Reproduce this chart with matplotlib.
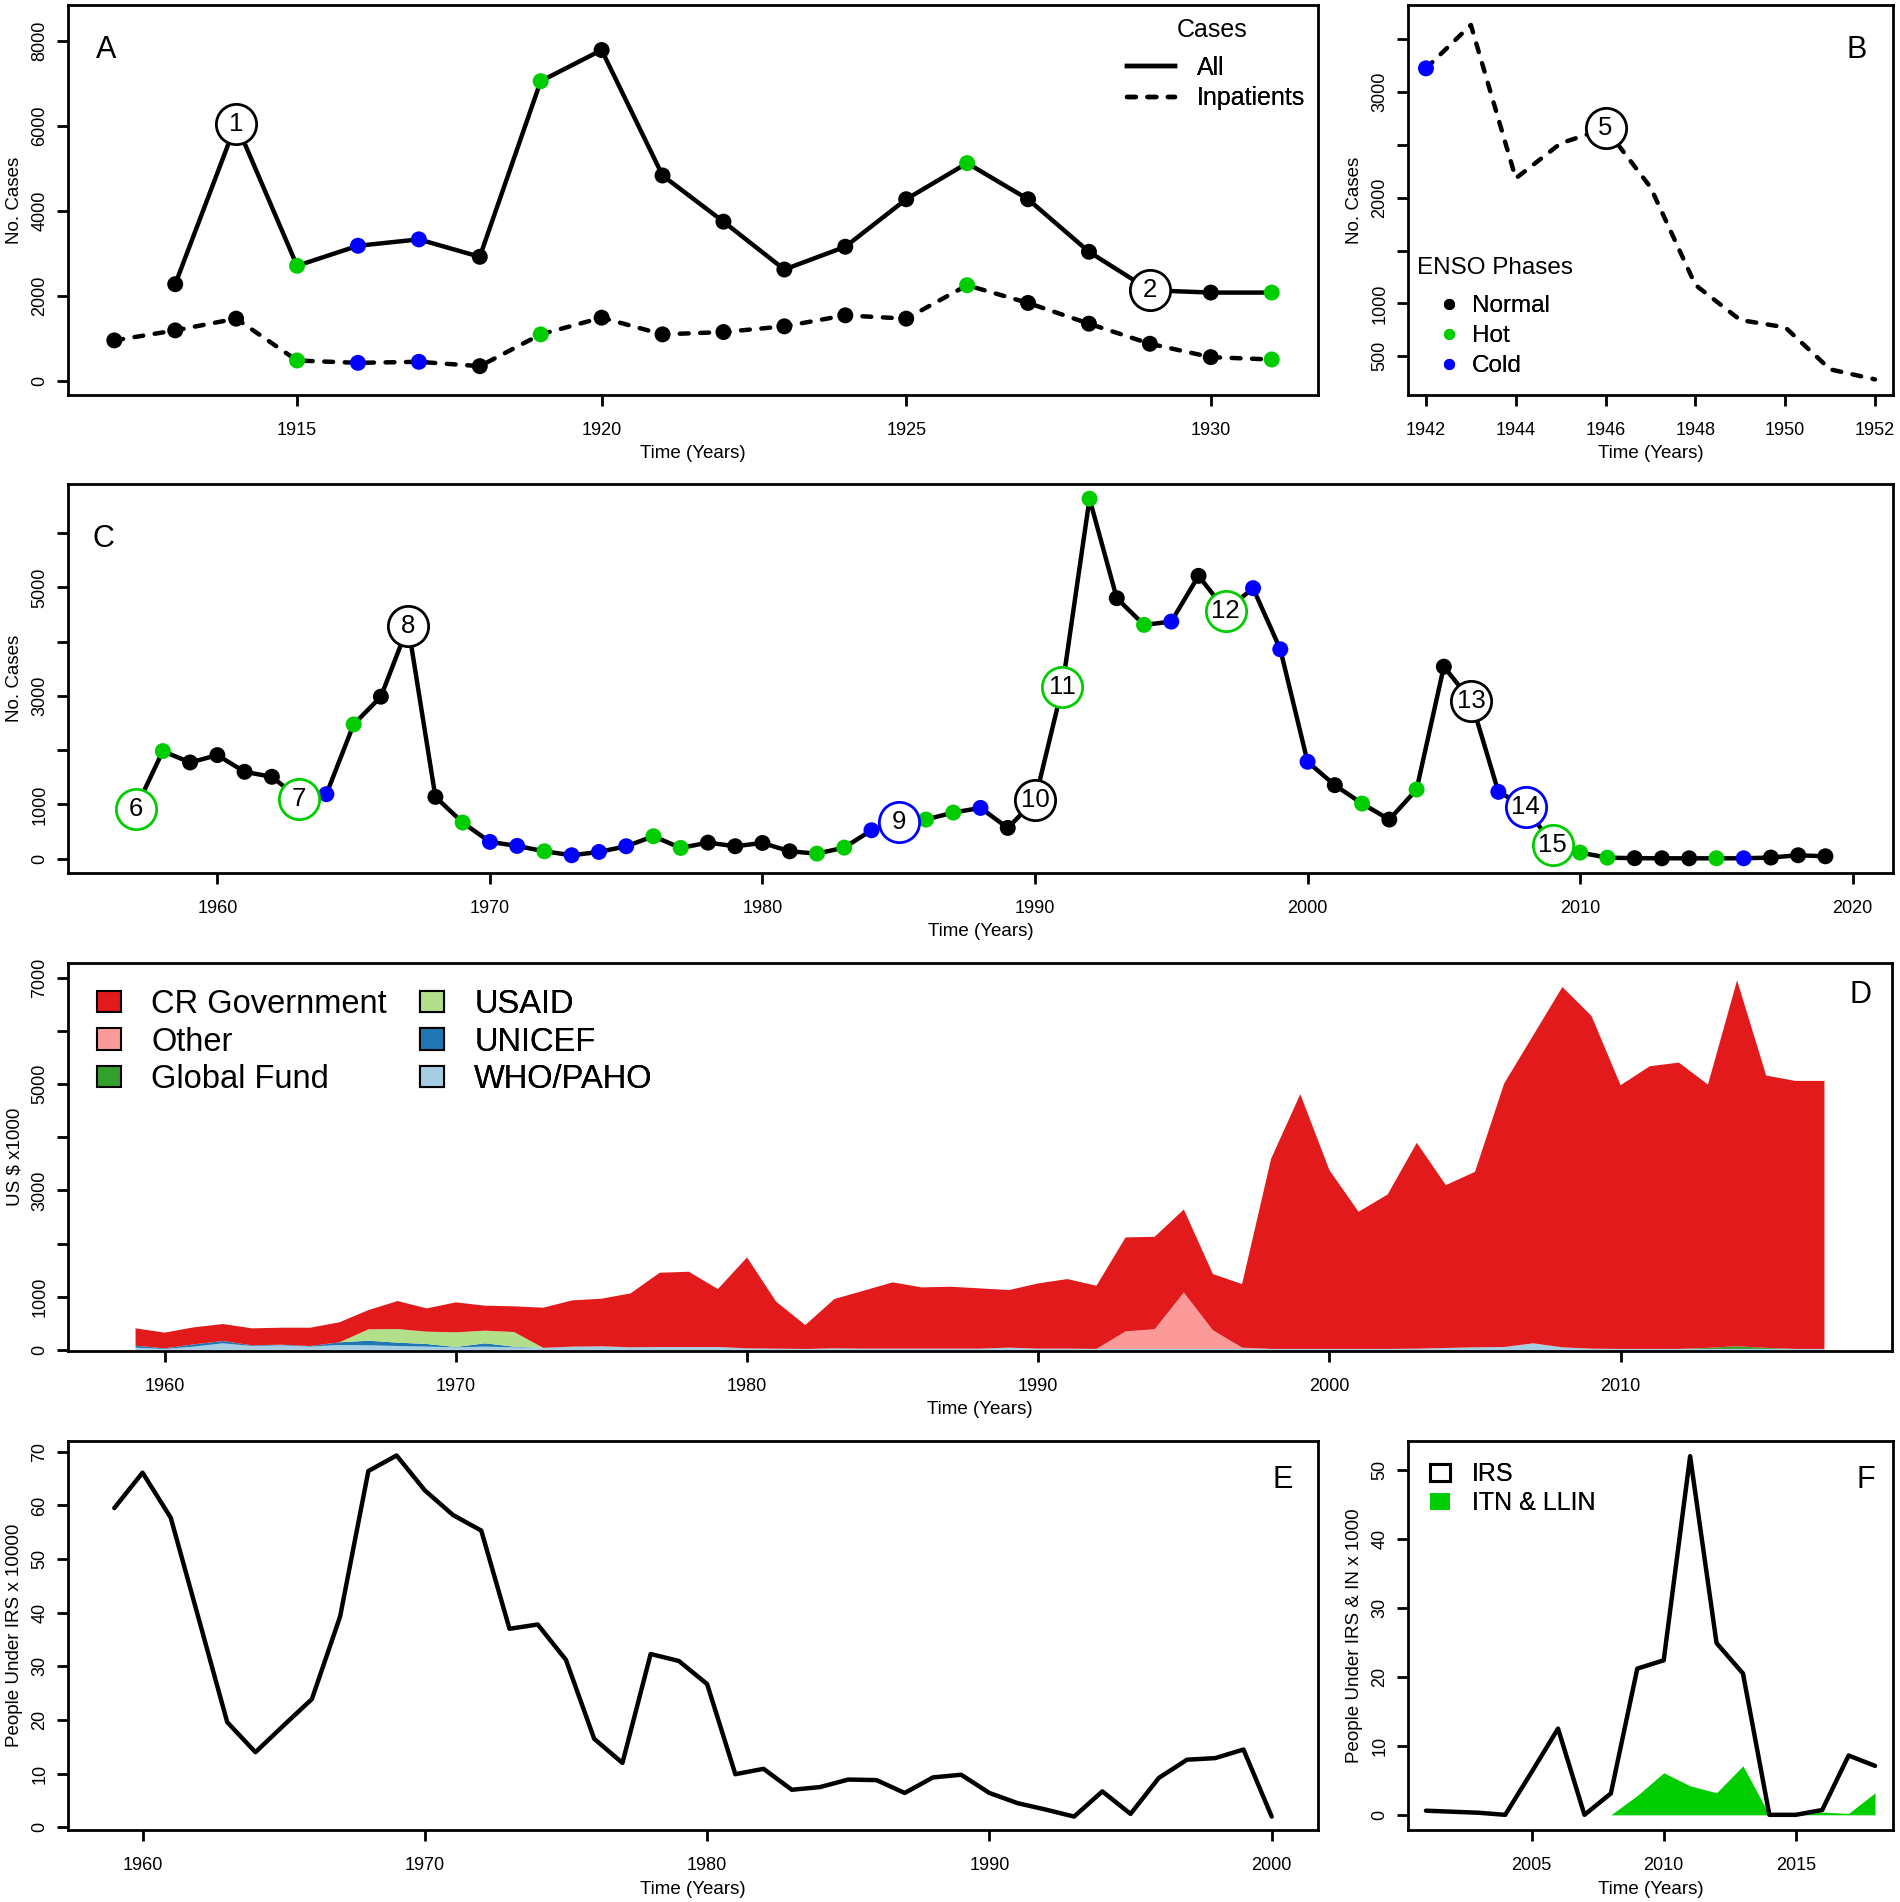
import matplotlib.pyplot as plt
from matplotlib.lines import Line2D
from matplotlib.patches import Patch

plt.rcParams['font.family'] = ['Liberation Sans', 'DejaVu Sans']

# ---------------- data ----------------
# A: cases 1912-1931
yrs_all_a = list(range(1913, 1932))
all_a = [2268, 6050, 2701, 3173, 3323, 2913, 7047, 7780, 4827, 3740,
         2614, 3150, 4268, 5118, 4268, 3031, 2126, 2071, 2071]
yrs_inp_a = list(range(1912, 1932))
inp_a = [945, 1181, 1457, 472, 417, 441, 339, 1087, 1480, 1087,
         1142, 1276, 1535, 1457, 2244, 1827, 1339, 866, 551, 496]
enso_a = list("NNNHCCNHNNNNNNHNNNNH")  # 1912..1931
circles_a = [(1914, "1"), (1929, "2")]

# B: inpatients 1942-1952
yrs_b = list(range(1942, 1953))
inp_b = [3226, 3637, 2184, 2516, 2658, 2100, 1174, 842, 773, 375, 280]
dot_b = (1942, "C")
circles_b = [(1946, "5")]

# C: cases 1957-2019
yrs_c = list(range(1957, 2020))
cases_c = [920, 1982, 1772, 1908, 1600, 1508, 1108, 1188, 2474, 2985,
           4289, 1138, 665, 308, 234, 135, 62, 123, 228, 412,
           197, 295, 228, 289, 135, 92, 203, 523, 677, 720,
           849, 935, 566, 1077, 3157, 6634, 4800, 4308, 4369, 5212,
           4572, 4985, 3858, 1785, 1354, 1015, 720, 1274, 3538, 2911,
           1231, 954, 246, 111, 18, 8, 6, 6, 6, 6,
           20, 62, 43]
enso_c = list("HHNNNNHCHNNNHCCHCCCHHNNNNHHCCHHCNNHHNHCNHCCCNHNHNNCCHHHNNNHCNNN")
circles_c = [(1957, "6"), (1963, "7"), (1967, "8"), (1985, "9"), (1990, "10"),
             (1991, "11"), (1997, "12"), (2006, "13"), (2008, "14"), (2009, "15")]

# D: funding (US $ x1000) 1959-2017, stacked bottom to top
yrs_d = list(range(1959, 2018))
who_paho = [44, 19, 63, 125, 75, 88, 63, 94, 88, 75,
            63, 50, 63, 50, 40, 63, 69, 50, 56, 56,
            56, 31, 25, 19, 31, 25, 25, 25, 25, 25,
            44, 25, 25, 20, 20, 20, 20, 20, 20, 20,
            20, 20, 20, 20, 25, 38, 50, 56, 125, 50,
            25, 20, 20, 20, 20, 20, 20, 20, 20]
unicef = [37, 12, 43, 44, 13, 12, 12, 50, 87, 63, 50, 6, 62, 13] + [0] * 45
usaid = [0] * 8 + [213, 256, 231, 276, 238, 275] + [0] * 45
global_fund = [0] * 54 + [20, 50, 20] + [0, 0]
other = [0] * 34 + [330, 370, 1060, 350, 25] + [0] * 20
cr_gov = [326, 295, 320, 319, 319, 319, 344, 376, 363, 526,
          438, 563, 470, 482, 755, 870, 895, 1014, 1396, 1415,
          1090, 1709, 883, 450, 927, 1089, 1246, 1152, 1164, 1133,
          1083, 1227, 1308, 1188, 1766, 1738, 1562, 1057, 1194, 3579,
          4788, 3360, 2578, 2903, 3869, 3061, 3299, 4952, 5790, 6773,
          6254, 4957, 5313, 5382, 4949, 6878, 5118, 5038, 5038]

# E: people under IRS x 10000, 1959-2000
yrs_e = list(range(1959, 2001))
irs_e = [59.5, 66.1, 57.7, 38.7, 19.6, 14.0, 19.0, 23.9, 39.3, 66.4,
         69.3, 62.8, 58.2, 55.3, 37.0, 37.8, 31.2, 16.5, 12.0, 32.3,
         31.0, 26.7, 9.9, 10.9, 7.0, 7.5, 8.9, 8.8, 6.4, 9.3,
         9.8, 6.4, 4.5, 3.3, 2.0, 6.7, 2.5, 9.2, 12.6, 12.9,
         14.5, 2.0]

# F: people under IRS & nets x 1000
yrs_f = list(range(2001, 2019))
irs_f = [0.6, 0.45, 0.3, 0.0, 6.2, 12.5, 0.0, 3.1, 21.2, 22.4,
         52.0, 24.9, 20.5, 0.0, 0.0, 0.7, 8.6, 7.1]
yrs_itn = list(range(2008, 2019))
itn_f = [0, 2.8, 6.1, 4.2, 3.2, 7.1, 0, 0, 0.4, 0.2, 3.2]

# ---------------- styles ----------------
phase_col = {"N": "black", "H": "#00CD00", "C": "#0000FF"}
LW = 3.2
DASH = (0, (2, 2.6))

W, H = 1900, 1902
fig = plt.figure(figsize=(W / 100, H / 100), dpi=100)

box_a = (68, 5, 1318, 395)
box_b = (1408, 5, 1893, 395)
box_c = (68, 484, 1893, 873)
box_d = (68, 963, 1892, 1351)
box_e = (68, 1441, 1318, 1830)
box_f = (1408, 1441, 1893, 1830)


def add_panel(box):
    l, t, r, b = box
    return fig.add_axes([l / W, 1 - b / H, (r - l) / W, (b - t) / H])


def ftext(x, y, s, size, **kw):
    # x, y: pixel centre of the capital letters
    em = size * 100 / 72
    fig.text(x / W, 1 - (y + 0.358 * em) / H, s, fontsize=size,
             ha="center", va="baseline", **kw)


def style(ax, box, xt, yt, ylabs, ylabel):
    l, t, r, b = box
    for s in ax.spines.values():
        s.set_linewidth(2)
    ax.set_xticks(xt)
    ax.set_yticks(yt, ylabs, rotation=90, va="center")
    ax.tick_params(direction="out", length=8, width=2, labelsize=13)
    ax.tick_params(axis="x", pad=11.5)
    ax.tick_params(axis="y", pad=6.2)
    ax.set_xlabel("Time (Years)", fontsize=13.5, va="center")
    ax.xaxis.set_label_coords(0.5, -59 / (b - t))
    ax.set_ylabel(ylabel, fontsize=13.5, va="center")
    ax.yaxis.set_label_coords(-53.3 / (r - l), 0.5)


def legend_at(ax, handles, labels, x, y, size, **kw):
    leg = ax.legend(handles, labels, loc="upper left",
                    bbox_to_anchor=(x / W, 1 - y / H),
                    bbox_transform=fig.transFigure, frameon=False,
                    borderpad=0, borderaxespad=0, fontsize=size, **kw)
    ax.add_artist(leg)
    return leg


def dots(ax, xs, ys, phases):
    ax.scatter(xs, ys, s=11.5 ** 2, c=[phase_col[p] for p in phases],
               edgecolors="none", zorder=3)


def circles(ax, xs, ys, phases, marks):
    for yr, lab in marks:
        i = xs.index(yr)
        col = phase_col[phases[i]]
        ax.plot(yr, ys[i], "o", ms=29, mfc="white", mec=col, mew=2, zorder=4)
        ax.text(yr, ys[i], lab, fontsize=18.5, ha="center", va="center", zorder=5)


# ---------------- A ----------------
ax = add_panel(box_a)
ax.plot(yrs_all_a, all_a, color="k", lw=LW, solid_capstyle="round", zorder=2)
ax.plot(yrs_inp_a, inp_a, color="k", lw=LW, ls=DASH, dash_capstyle="round", zorder=2)
dots(ax, yrs_all_a, all_a, enso_a[1:])
dots(ax, yrs_inp_a, inp_a, enso_a)
circles(ax, yrs_all_a, all_a, enso_a[1:], circles_a)
ax.set_xlim(1911.24, 1931.76)
ax.set_ylim(-340, 8840)
style(ax, box_a, [1915, 1920, 1925, 1930], [0, 2000, 4000, 6000, 8000],
      ["0", "2000", "4000", "6000", "8000"], "No. Cases")
legend_at(ax, [Line2D([], [], color="k", lw=LW),
               Line2D([], [], color="k", lw=LW, ls=DASH, dash_capstyle="round")],
          ["All", "Inpatients"], 1127, 56, 18,
          handlelength=1.92, handletextpad=0.88, labelspacing=0.25)
ftext(1212, 28, "Cases", 18)
ftext(106, 47, "A", 22)

# ---------------- B ----------------
ax = add_panel(box_b)
ax.plot(yrs_b, inp_b, color="k", lw=LW, ls=DASH, dash_capstyle="round", zorder=2)
dots(ax, [dot_b[0]], [inp_b[yrs_b.index(dot_b[0])]], [dot_b[1]])
circles(ax, yrs_b, inp_b, ["N"] * len(yrs_b), circles_b)
ax.set_xlim(1941.6, 1952.4)
ax.set_ylim(132, 3826)
style(ax, box_b, list(range(1942, 1953, 2)), [500, 1000, 1500, 2000, 2500, 3000, 3500],
      ["500", "1000", "", "2000", "", "3000", ""], "No. Cases")
enso_handles = [Line2D([], [], ls="none", marker="o", ms=8, mec="none", mfc=phase_col[p])
                for p in "NHC"]
legend_at(ax, enso_handles, ["Normal", "Hot", "Cold"], 1439, 295, 17.5,
          handlelength=0.8, handletextpad=0.55, labelspacing=0.33)
ftext(1495, 265, "ENSO Phases", 17.5)
ftext(1857, 47, "B", 22)

# ---------------- C ----------------
ax = add_panel(box_c)
ax.plot(yrs_c, cases_c, color="k", lw=LW, solid_capstyle="round", zorder=2)
dots(ax, yrs_c, cases_c, enso_c)
circles(ax, yrs_c, cases_c, enso_c, circles_c)
ax.set_xlim(1954.52, 2021.48)
ax.set_ylim(-265, 6905)
style(ax, box_c, list(range(1960, 2021, 10)), list(range(0, 7000, 1000)),
      ["0", "1000", "", "3000", "", "5000", ""], "No. Cases")
ftext(103, 536, "C", 22)

# ---------------- D ----------------
ax = add_panel(box_d)
fund_cols = ["#A6CEE3", "#1F78B4", "#B2DF8A", "#33A02C", "#FB9A99", "#E31A1C"]
ax.stackplot(yrs_d, who_paho, unicef, usaid, global_fund, other, cr_gov,
             colors=fund_cols, linewidth=0)
ax.set_xlim(1956.68, 2019.32)
ax.set_ylim(-19, 7274)
style(ax, box_d, list(range(1960, 2011, 10)), list(range(0, 7001, 1000)),
      ["0", "1000", "", "3000", "", "5000", "", "7000"], "US $ x1000")
dkw = dict(handlelength=0.74, handleheight=0.65, handletextpad=0.92, labelspacing=0.2)
legend_at(ax, [Patch(fc=fund_cols[5], ec="k", lw=1.5), Patch(fc=fund_cols[4], ec="k", lw=1.5),
               Patch(fc=fund_cols[3], ec="k", lw=1.5)],
          ["CR Government", "Other", "Global Fund"], 97, 989, 23.5, **dkw)
legend_at(ax, [Patch(fc=fund_cols[2], ec="k", lw=1.5), Patch(fc=fund_cols[1], ec="k", lw=1.5),
               Patch(fc=fund_cols[0], ec="k", lw=1.5)],
          ["USAID", "UNICEF", "WHO/PAHO"], 420, 989, 23.5, **dkw)
ftext(1860, 992, "D", 22)

# ---------------- E ----------------
ax = add_panel(box_e)
ax.plot(yrs_e, irs_e, color="k", lw=LW, solid_capstyle="round")
ax.set_xlim(1957.36, 2001.64)
ax.set_ylim(-0.5, 72.0)
style(ax, box_e, [1960, 1970, 1980, 1990, 2000], list(range(0, 71, 10)),
      [str(v) for v in range(0, 71, 10)], "People Under IRS x 10000")
ftext(1283, 1477, "E", 22)

# ---------------- F ----------------
ax = add_panel(box_f)
ax.fill_between(yrs_itn, itn_f, 0, color="#00CD00", lw=0, zorder=1)
ax.plot(yrs_f, irs_f, color="k", lw=LW, solid_capstyle="round", zorder=2)
ax.set_xlim(2000.32, 2018.68)
ax.set_ylim(-2.2, 54.2)
style(ax, box_f, [2005, 2010, 2015], list(range(0, 51, 10)),
      [str(v) for v in range(0, 51, 10)], "People Under IRS & IN x 1000")
legend_at(ax, [Patch(fc="white", ec="k", lw=2.2), Patch(fc="#00CD00", ec="none")],
          ["IRS", "ITN & LLIN"], 1430, 1462, 18,
          handlelength=0.78, handleheight=0.7, handletextpad=0.9, labelspacing=0.2)
ftext(1866, 1477, "F", 22)

fig.savefig("out.png", dpi=100)
